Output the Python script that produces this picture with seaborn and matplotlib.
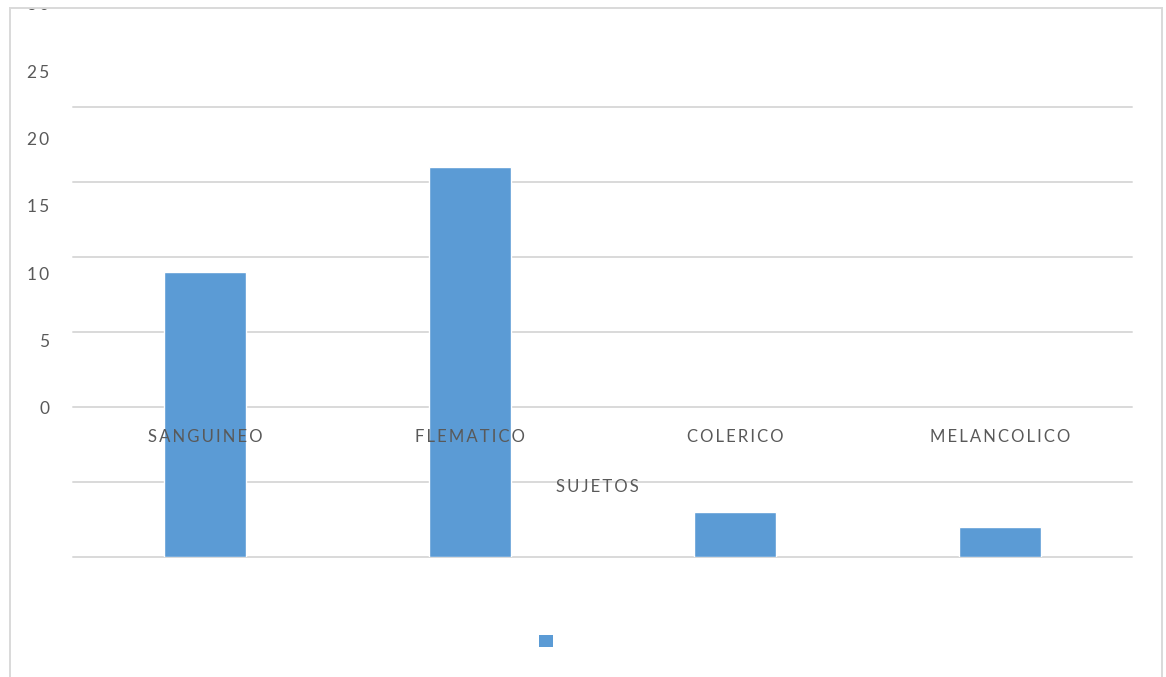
import matplotlib
matplotlib.use("Agg")
import matplotlib.pyplot as plt
import matplotlib.transforms as mtransforms
from matplotlib.patches import Rectangle, Patch
import seaborn as sns
import pandas as pd

categories = ["SANGUINEO", "FLEMATICO", "COLERICO", "MELANCOLICO"]
values = [19, 26, 3, 2]
ytick_labels = ["0", "5", "10", "15", "20", "25", "30"]
axis_title = "SUJETOS"

df = pd.DataFrame({"cat": categories, "val": values})

sns.set_theme(style="white")
plt.rcParams["font.family"] = ["DejaVu Sans"]

W, H = 1166, 677
fig = plt.figure(figsize=(W / 100, H / 100), dpi=100)
ax = fig.add_axes([73 / W, (H - 557) / H, (1132 - 73) / W, 450 / H])

bar_color = "#5B9BD5"
grid_color = "#D9D9D9"
text_color = "#595959"
FONT = ["Lato", "DejaVu Sans"]

sns.barplot(data=df, x="cat", y="val", color=bar_color, width=0.31,
            saturation=1, ax=ax, zorder=2)
ax.set_xlim(-0.5, 3.5)
ax.set_ylim(0, 30)
for v in range(0, 31, 5):
    ax.axhline(v, color=grid_color, lw=1.4, zorder=1, clip_on=False)
for s in ax.spines.values():
    s.set_visible(False)
ax.set_xticks([])
ax.set_yticks([])
ax.set_xlabel("")
ax.set_ylabel("")

def spaced(s):
    return "\u2009".join(s)

# Category labels drawn inside the plot area
for i, c in enumerate(categories):
    ax.text(i, 8.0, spaced(c), ha="center", va="center", fontsize=12,
            color=text_color, zorder=3, family=FONT)

ax.text(1.48, 4.65, spaced(axis_title), ha="center", va="center",
        fontsize=12, color=text_color, zorder=3, family=FONT)

# Misaligned value-axis labels
trans = mtransforms.blended_transform_factory(fig.transFigure, ax.transData)
for i, lab in enumerate(ytick_labels):
    fig.text(49 / W, 9.85 + i * 4.49, spaced(lab), transform=trans,
             ha="right", va="center", fontsize=12.5, color=text_color,
             family=FONT)

# Legend with marker only
fig.legend(handles=[Patch(facecolor=bar_color, edgecolor="none")],
           labels=[""], loc="center", bbox_to_anchor=(546 / W, (H - 642) / H),
           frameon=False, handlelength=1.0, handleheight=1.0,
           handletextpad=0.0, borderpad=0, borderaxespad=0,
           prop={"size": 10})

# Chart border, clip top
fig.patches.append(Rectangle((0, (H - 8) / H), 1, 8 / H, transform=fig.transFigure,
                             facecolor="white", edgecolor="none", zorder=10))
fig.patches.append(Rectangle((10 / W, -0.05), (1162 - 10) / W, (H - 8) / H + 0.05,
                             transform=fig.transFigure, facecolor="none",
                             edgecolor=grid_color, lw=1.4, zorder=11))

fig.savefig("out.png", dpi=100)
